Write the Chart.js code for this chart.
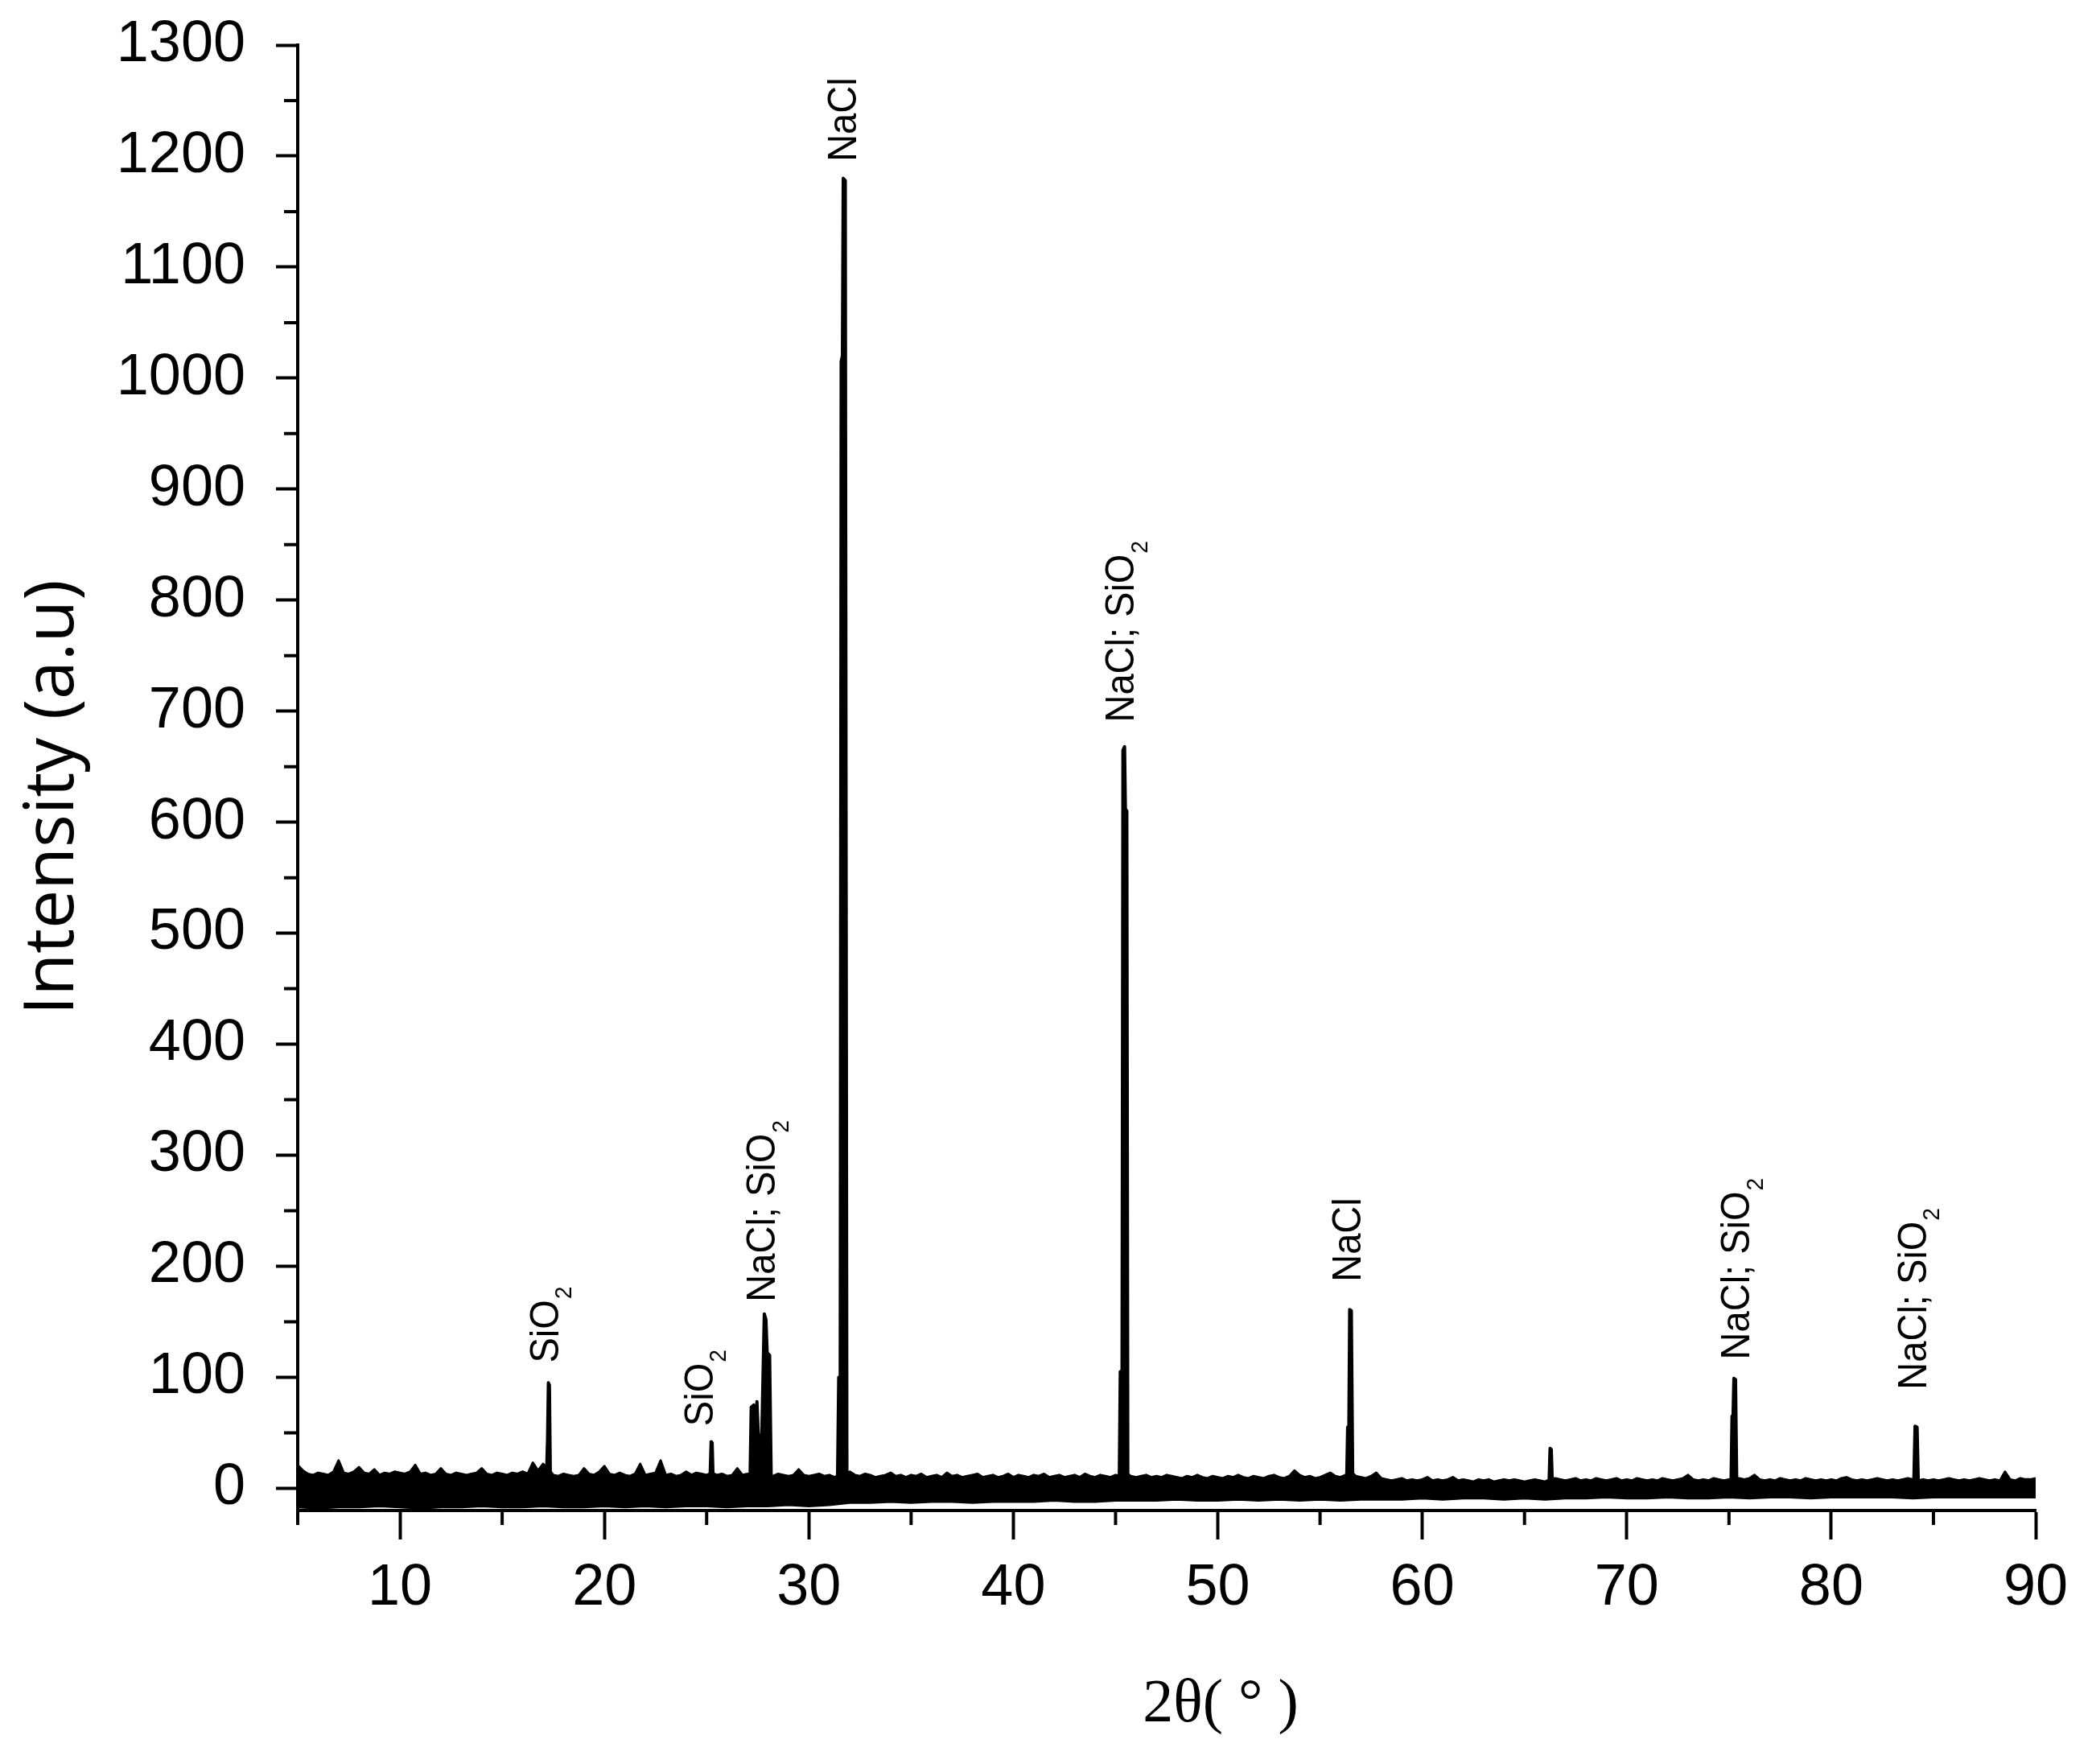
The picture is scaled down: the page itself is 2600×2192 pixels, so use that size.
<!DOCTYPE html>
<html>
<head>
<meta charset="utf-8">
<title>XRD pattern</title>
<script src="https://cdn.jsdelivr.net/npm/chart.js@4.4.0/dist/chart.umd.min.js"></script>
<style>
  html, body { margin: 0; padding: 0; background: #fff; }
  #xrd { display: block; }
</style>
</head>
<body>
<canvas id="xrd" width="2600" height="2192"></canvas>
<script>
// axis ticks
const xTicks = [10, 20, 30, 40, 50, 60, 70, 80, 90];
const xMinorTicks = [5, 15, 25, 35, 45, 55, 65, 75, 85];
const yTicks = [0, 100, 200, 300, 400, 500, 600, 700, 800, 900, 1000, 1100, 1200, 1300];
const yMinorTicks = [50, 150, 250, 350, 450, 550, 650, 750, 850, 950, 1050, 1150, 1250];

// noisy background: top edge read every 0.25 deg from 5 to 90
const bandStart = 5;
const bandStep = 0.25;
const bandTop = [
  21, 16, 13, 12, 14, 13, 12, 15, 25, 14, 13, 15, 19, 14, 13, 17, 12, 14, 13, 15,
  14, 13, 15, 21, 13, 14, 12, 13, 18, 13, 12, 14, 13, 12, 13, 14, 18, 13, 12, 14,
  13, 12, 14, 13, 15, 13, 23, 16, 22, 18, 12, 11, 13, 12, 11, 12, 18, 13, 12, 15,
  20, 13, 12, 14, 12, 11, 13, 22, 12, 13, 14, 25, 12, 13, 11, 12, 15, 12, 14, 13,
  12, 14, 12, 13, 11, 12, 18, 12, 13, 11, 12, 13, 12, 11, 13, 12, 11, 12, 17, 12,
  11, 12, 13, 11, 12, 10, 12, 11, 15, 12, 11, 13, 12, 10, 11, 12, 14, 11, 12, 10,
  12, 11, 13, 10, 11, 12, 10, 14, 11, 12, 10, 11, 12, 13, 10, 11, 12, 10, 11, 13,
  10, 12, 11, 10, 12, 11, 13, 10, 11, 12, 10, 11, 12, 10, 13, 11, 10, 12, 11, 10,
  12, 11, 14, 11, 10, 11, 12, 10, 11, 10, 12, 11, 10, 9, 11, 10, 12, 10, 9, 11,
  10, 9, 11, 10, 12, 10, 9, 11, 10, 9, 11, 12, 10, 9, 11, 16, 12, 10, 11, 9,
  10, 12, 14, 11, 10, 12, 15, 11, 10, 9, 11, 14, 9, 8, 7, 8, 9, 7, 8, 7,
  8, 10, 7, 8, 7, 8, 10, 7, 8, 7, 6, 8, 7, 8, 6, 7, 8, 7, 8, 7,
  6, 7, 8, 7, 6, 8, 9, 8, 7, 8, 9, 7, 8, 7, 9, 8, 7, 8, 9, 7,
  8, 7, 9, 8, 7, 8, 7, 9, 8, 7, 8, 9, 12, 8, 7, 8, 7, 9, 8, 7,
  8, 7, 9, 8, 9, 12, 8, 7, 8, 7, 9, 8, 7, 8, 7, 9, 8, 7, 8, 7,
  8, 7, 9, 10, 8, 7, 8, 7, 8, 9, 8, 7, 8, 7, 8, 9, 8, 7, 8, 7,
  8, 7, 8, 9, 8, 7, 8, 7, 8, 9, 8, 7, 8, 7, 15, 8, 7, 9, 8, 8,
  9
];
// bottom edge of the same band, every 1 deg
const bandBottomStep = 1;
const bandBottom = [
  -17, -18, -17, -17, -16, -17, -18, -17, -17, -16,
  -17, -17, -16, -17, -17, -16, -17, -16, -17, -16,
  -16, -17, -16, -16, -15, -16, -15,
  -13, -13, -12, -13, -12, -12, -13, -12, -12, -12, -11, -12, -12, -11,
  -11, -11, -10, -11, -11, -10, -11, -10, -11, -10,
  -11, -10, -10, -10, -9, -10, -9, -9, -10, -9,
  -10, -9, -9, -8, -9, -9, -8, -9, -9, -8,
  -9, -8, -8, -9, -8, -8, -8, -8, -9, -8,
  -8, -8, -8, -8, -8
];

// reflections (null count = break between peaks)
const peakTheta = [
  17.16, 17.22, 17.26, 17.31, 17.36, 17.37,
  25.16, 25.22, 25.27, 25.32, 25.33,
  27.12, 27.18, 27.30, 27.38, 27.46, 27.56, 27.70, 27.82, 27.90, 27.96, 28.08, 28.16, 28.17,
  31.40, 31.46, 31.50, 31.53, 31.58, 31.64, 31.68, 31.78, 31.86, 31.87,
  45.18, 45.23, 45.27, 45.31, 45.36, 45.44, 45.48, 45.55, 45.60, 45.61,
  56.30, 56.35, 56.41, 56.45, 56.53, 56.60, 56.61,
  66.20, 66.25, 66.31, 66.36, 66.37,
  75.10, 75.15, 75.20, 75.24, 75.32, 75.38, 75.39,
  84.04, 84.10, 84.20, 84.26
];
const peakCounts = [
  5, 45, 95, 93, 5, null,
  5, 42, 41, 5, null,
  5, 73, 75, 40, 78, 35, 50, 157, 152, 122, 120, 5, null,
  5, 100, 98, 20, 1015, 1020, 1180, 1178, 5, null,
  5, 105, 100, 20, 665, 668, 612, 610, 5, null,
  5, 55, 56, 161, 160, 5, null,
  5, 36, 35, 5, null,
  5, 65, 66, 99, 98, 5, null,
  5, 56, 55, 5
];

// peak annotations
const labelTheta = [17.2, 24.75, 27.8, 31.78, 45.35, 56.45, 75.45, 84.1];
const labelAt = [113, 56, 168, 1195, 690, 186, 116, 89];
const labelText = ['SiO', 'SiO', 'NaCl; SiO', 'NaCl', 'NaCl; SiO', 'NaCl', 'NaCl; SiO', 'NaCl; SiO'];
const labelSub = ['2', '2', '2', '', '2', '', '2', '2'];

const bandTopData = bandTop.map((v, i) => ({ x: bandStart + i * bandStep, y: v }));
const bandBottomData = bandBottom.map((v, i) => ({ x: bandStart + i * bandBottomStep, y: v }));
const peakData = peakTheta.map((t, i) => ({ x: t, y: peakCounts[i] }));

const tickFont = { family: '"Liberation Sans", Arial, sans-serif', size: 72 };

// minor ticks, peak labels and axis titles
const xrdDecor = {
  id: 'xrdDecor',
  afterDraw(chart) {
    const { ctx, chartArea } = chart;
    const x = chart.scales.x;
    const y = chart.scales.y;
    ctx.save();

    ctx.strokeStyle = '#000';
    ctx.lineWidth = 4;
    ctx.beginPath();
    xMinorTicks.forEach(v => {
      const px = x.getPixelForValue(v);
      ctx.moveTo(px, chartArea.bottom);
      ctx.lineTo(px, chartArea.bottom + 18);
    });
    yMinorTicks.forEach(v => {
      const py = y.getPixelForValue(v);
      ctx.moveTo(chartArea.left - 17, py);
      ctx.lineTo(chartArea.left, py);
    });
    ctx.stroke();

    ctx.fillStyle = '#000';
    labelText.forEach((txt, i) => {
      const px = x.getPixelForValue(labelTheta[i]);
      const py = y.getPixelForValue(labelAt[i]);
      ctx.save();
      ctx.translate(px, py);
      ctx.rotate(-Math.PI / 2);
      ctx.scale(0.94, 1);
      ctx.font = '50px "Liberation Sans", Arial, sans-serif';
      ctx.textAlign = 'left';
      ctx.textBaseline = 'middle';
      ctx.fillText(txt, 0, 0);
      if (labelSub[i]) {
        const w = ctx.measureText(txt).width;
        ctx.font = '30px "Liberation Sans", Arial, sans-serif';
        ctx.fillText(labelSub[i], w + 1, 22);
      }
      ctx.restore();
    });

    // y title
    ctx.save();
    ctx.translate(66, 991);
    ctx.rotate(-Math.PI / 2);
    ctx.font = '86px "Open Sans", sans-serif';
    ctx.textAlign = 'center';
    ctx.textBaseline = 'middle';
    ctx.fillText('Intensity (a.u)', 0, 0);
    ctx.restore();

    // x title
    ctx.font = '76px "Liberation Serif", "Times New Roman", serif';
    ctx.textAlign = 'center';
    ctx.textBaseline = 'middle';
    ctx.fillText('2θ( ° )', 1517, 2119);

    ctx.restore();
  }
};

new Chart(document.getElementById('xrd'), {
  type: 'line',
  data: {
    datasets: [
      {
        label: 'background top',
        data: bandTopData,
        borderColor: '#000',
        backgroundColor: '#000',
        borderWidth: 3,
        borderJoinStyle: 'round',
        pointRadius: 0,
        fill: '+1'
      },
      {
        label: 'background bottom',
        data: bandBottomData,
        borderColor: '#000',
        borderWidth: 3,
        pointRadius: 0,
        fill: false
      },
      {
        label: 'peaks',
        data: peakData,
        borderColor: '#000',
        backgroundColor: '#000',
        borderWidth: 4,
        borderJoinStyle: 'round',
        pointRadius: 0,
        spanGaps: false,
        fill: 'origin'
      }
    ]
  },
  options: {
    responsive: false,
    animation: false,
    devicePixelRatio: 1,
    layout: { padding: { left: 0, top: 56, right: 70, bottom: 0 } },
    plugins: {
      legend: { display: false },
      tooltip: { enabled: false }
    },
    elements: { line: { tension: 0 } },
    scales: {
      x: {
        type: 'linear',
        min: 5,
        max: 90,
        afterBuildTicks: axis => { axis.ticks = xTicks.map(v => ({ value: v })); },
        afterFit: axis => { axis.height = 315; },
        border: { display: true, color: '#000', width: 4 },
        grid: { display: true, drawOnChartArea: false, drawTicks: true, tickLength: 36, tickWidth: 4, tickColor: '#000' },
        ticks: {
          color: '#000',
          font: tickFont,
          padding: 18,
          maxRotation: 0,
          autoSkip: false,
          callback: v => String(v)
        }
      },
      y: {
        min: -20,
        max: 1300,
        afterBuildTicks: axis => { axis.ticks = yTicks.map(v => ({ value: v })); },
        afterFit: axis => {
          axis.width = 370;
          // keep the plot top at the layout padding, not label size + padding
          axis.paddingTop = 0;
          axis.paddingBottom = 0;
        },
        border: { display: true, color: '#000', width: 4 },
        grid: { display: true, drawOnChartArea: false, drawTicks: true, tickLength: 27, tickWidth: 4, tickColor: '#000' },
        ticks: {
          color: '#000',
          font: tickFont,
          padding: 38,
          autoSkip: false,
          callback: v => String(v)
        }
      }
    }
  },
  plugins: [xrdDecor]
});
</script>
</body>
</html>
